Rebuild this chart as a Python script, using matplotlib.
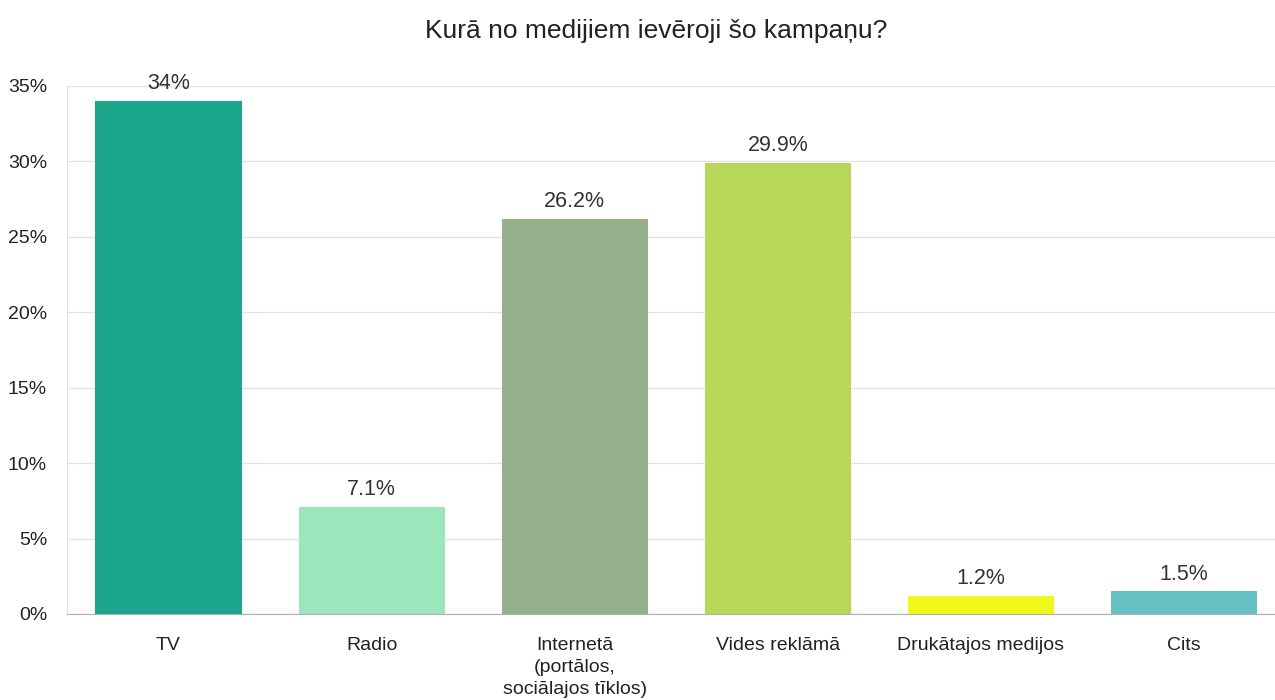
import matplotlib
matplotlib.use("Agg")
import matplotlib.pyplot as plt
from matplotlib.ticker import FuncFormatter

plt.rcParams['font.family'] = ['Liberation Sans', 'DejaVu Sans']

categories = ['TV', 'Radio', 'Internetā\n(portālos,\nsociālajos tīklos)',
              'Vides reklāmā', 'Drukātajos medijos', 'Cits']
values = [34, 7.1, 26.2, 29.9, 1.2, 1.5]
value_labels = ['34%', '7.1%', '26.2%', '29.9%', '1.2%', '1.5%']
colors = ['#1ba58a', '#9be6bb', '#97b08c', '#b8d65a', '#f0f71a', '#68c0c4']

fig = plt.figure(figsize=(12.75, 7), dpi=100)
ax = fig.add_axes([67 / 1275, 1 - 614 / 700, 1 - 67 / 1275, 528 / 700])

x = range(len(categories))
bars = ax.bar(x, values, width=0.72, color=colors, zorder=3)
for b, lab in zip(bars, value_labels):
    ax.text(b.get_x() + b.get_width() / 2, b.get_height() + 0.45, lab,
            ha='center', va='bottom', fontsize=15.5, color='#333333')

ax.set_xlim(-0.5, 5.448)
ax.set_ylim(0, 35)
ax.set_yticks(range(0, 36, 5))
ax.yaxis.set_major_formatter(FuncFormatter(lambda v, p: f'{int(v)}%'))
ax.set_xticks(list(x))
ax.set_xticklabels(categories, fontsize=14, color='#222222', linespacing=1.38, va='top')
ax.tick_params(axis='both', length=0, labelsize=14, colors='#222222')
ax.tick_params(axis='x', pad=16.5)
ax.tick_params(axis='y', pad=14.4)

ax.grid(axis='y', color='#e3e3e3', linewidth=1, zorder=0)
ax.grid(axis='x', visible=False)
for s in ['top', 'right']:
    ax.spines[s].set_visible(False)
ax.spines['left'].set_color('#e3e3e3')
ax.spines['bottom'].set_color('#b0b0b0')
ax.spines['bottom'].set_zorder(4)

fig.text(656 / 1275, 1 - 31 / 700, 'Kurā no medijiem ievēroji šo kampaņu?',
         ha='center', va='center', fontsize=19, color='#222222')

fig.savefig('out.png', dpi=100)
